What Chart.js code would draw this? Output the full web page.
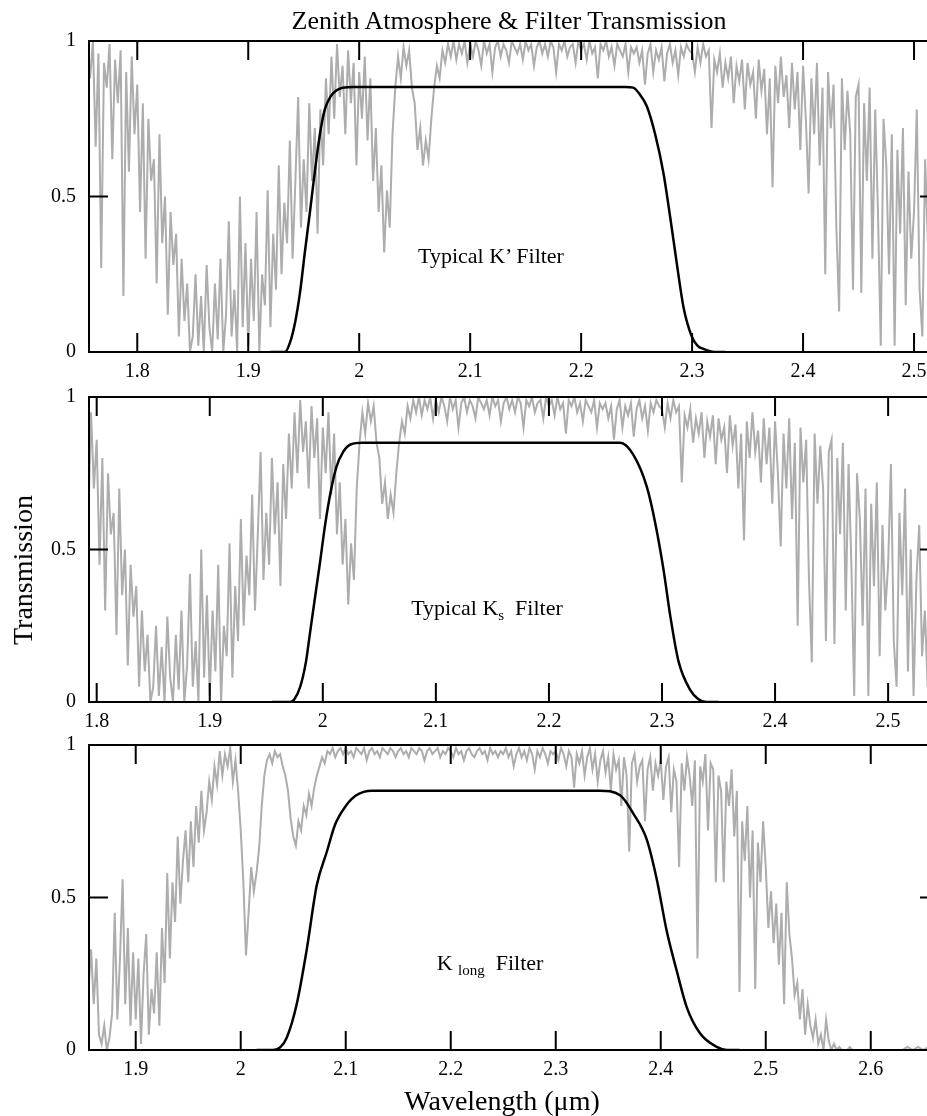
<!DOCTYPE html>
<html><head><meta charset="utf-8">
<script src="https://cdn.jsdelivr.net/npm/chart.js@4.4.0/dist/chart.umd.min.js"></script>
<style>
html,body{margin:0;padding:0;background:#fff;overflow:hidden;}
#wrap{position:relative;width:927px;height:1116px;overflow:hidden;font-family:"Liberation Serif","Times New Roman",serif;color:#000;background:#fff;}
canvas{position:absolute;left:0;}
.t{position:absolute;white-space:nowrap;line-height:1;transform:translateX(-50%);}
.sub{font-size:15px;position:relative;top:5px;}
</style></head><body><div id="wrap">
<canvas id="c1" width="950" height="390" style="top:0px"></canvas>
<canvas id="c2" width="950" height="368" style="top:372px"></canvas>
<canvas id="c3" width="950" height="368" style="top:720px"></canvas>
<div class="t" style="left:509px;top:8px;font-size:26px;">Zenith Atmosphere &amp; Filter Transmission</div>
<div class="t" style="left:491px;top:245px;font-size:22px;">Typical K’ Filter</div>
<div class="t" style="left:487px;top:597px;font-size:22px;">Typical K<span class="sub">s</span>&nbsp; Filter</div>
<div class="t" style="left:490px;top:952px;font-size:22px;">K <span class="sub">long</span>&nbsp; Filter</div>
<div class="t" style="left:502px;top:1087px;font-size:28px;">Wavelength (μm)</div>
<div style="position:absolute;left:23px;top:570px;font-size:28px;line-height:1;white-space:nowrap;transform:translate(-50%,-50%) rotate(-90deg);">Transmission</div>
</div>
<script>
// ---- tick labels ----
const yTicks = [0, 0.5, 1];
const xTicks1 = [1.8, 1.9, 2, 2.1, 2.2, 2.3, 2.4, 2.5];
const xTicks2 = [1.8, 1.9, 2, 2.1, 2.2, 2.3, 2.4, 2.5];
const xTicks3 = [1.9, 2, 2.1, 2.2, 2.3, 2.4, 2.5, 2.6];
const xRange1 = [1.7565, 2.5225];
const xRange2 = [1.7932, 2.545];
const xRange3 = [1.8555, 2.665];

// ---- atmosphere (panels 1 and 2) ----
const atmA_wl = [
1.75,1.7525,1.755,1.7575,1.76,1.7625,1.765,1.7675,1.77,1.7725,1.775,1.7775,1.78,1.7825,1.785,1.7875,1.79,1.7925,1.795,1.7975,
1.8,1.8025,1.805,1.8075,1.81,1.8125,1.815,1.8175,1.82,1.8225,1.825,1.8275,1.83,1.8325,1.835,1.8375,1.84,1.8425,1.845,1.8475,
1.85,1.8525,1.855,1.8575,1.86,1.8625,1.865,1.8675,1.87,1.8725,1.875,1.8775,1.88,1.8825,1.885,1.8875,1.89,1.8925,1.895,1.8975,
1.9,1.9025,1.905,1.9075,1.91,1.9125,1.915,1.9175,1.92,1.9225,1.925,1.9275,1.93,1.9325,1.935,1.9375,1.94,1.9425,1.945,1.9475,
1.95,1.9525,1.955,1.9575,1.96,1.9625,1.965,1.9675,1.97,1.9725,1.975,1.9775,1.98,1.9825,1.985,1.9875,1.99,1.9925,1.995,1.9975,
2,2.0025,2.005,2.0075,2.01,2.0125,2.015,2.0175,2.02,2.0225,2.025,2.0275,2.03,2.0325,2.035,2.0375,2.04,2.0425,2.045,2.0475,
2.05,2.0525,2.055,2.0575,2.06,2.0625,2.065,2.0675,2.07,2.0725,2.075,2.0775,2.08,2.0825,2.085,2.0875,2.09,2.0925,2.095,2.0975,
2.1,2.1025,2.105,2.1075,2.11,2.1125,2.115,2.1175,2.12,2.1225,2.125,2.1275,2.13,2.1325,2.135,2.1375,2.14,2.1425,2.145,2.1475,
2.15,2.1525,2.155,2.1575,2.16,2.1625,2.165,2.1675,2.17,2.1725,2.175,2.1775,2.18,2.1825,2.185,2.1875,2.19,2.1925,2.195,2.1975,
2.2,2.2025,2.205,2.2075,2.21,2.2125,2.215,2.2175,2.22,2.2225,2.225,2.2275,2.23,2.2325,2.235,2.2375,2.24,2.2425,2.245,2.2475,
2.25,2.2525,2.255,2.2575,2.26,2.2625,2.265,2.2675,2.27,2.2725,2.275,2.2775,2.28,2.2825,2.285,2.2875,2.29,2.2925,2.295,2.2975,
2.3,2.3025,2.305,2.3075,2.31,2.3125,2.315,2.3175,2.32,2.3225,2.325,2.3275,2.33,2.3325,2.335,2.3375,2.34,2.3425,2.345,2.3475,
2.35,2.3525,2.355,2.3575,2.36,2.3625,2.365,2.3675,2.37,2.3725,2.375,2.3775,2.38,2.3825,2.385,2.3875,2.39,2.3925,2.395,2.3975,
2.4,2.4025,2.405,2.4075,2.41,2.4125,2.415,2.4175,2.42,2.4225,2.425,2.4275,2.43,2.4325,2.435,2.4375,2.44,2.4425,2.445,2.4475,
2.45,2.4525,2.455,2.4575,2.46,2.4625,2.465,2.4675,2.47,2.4725,2.475,2.4775,2.48,2.4825,2.485,2.4875,2.49,2.4925,2.495,2.4975,
2.5,2.5025,2.505,2.5075,2.51,2.5125,2.515,2.5175,2.52,2.5225,2.525,2.5275,2.53,2.5325,2.535,2.5375,2.54,2.5425,2.545,2.5475,
2.55];
const atmA_tr = [
0.95,0.72,0.98,0.88,1.0,0.66,0.96,0.27,0.93,0.85,0.99,0.62,0.94,0.80,0.97,0.18,0.90,0.58,0.95,0.70,
0.86,0.45,0.80,0.30,0.75,0.55,0.62,0.22,0.70,0.35,0.50,0.12,0.45,0.28,0.38,0.05,0.30,0.10,0.22,0.0,
0.05,0.25,0.02,0.18,0.0,0.28,0.08,0.0,0.22,0.04,0.30,0.0,0.12,0.42,0.05,0.20,0.0,0.50,0.08,0.35,
0.02,0.30,0.10,0.45,0.0,0.25,0.15,0.52,0.08,0.38,0.20,0.60,0.25,0.48,0.35,0.68,0.30,0.55,0.82,0.40,
0.62,0.45,0.80,0.55,0.72,0.38,0.78,0.60,0.88,0.70,0.95,0.75,0.99,0.82,0.92,0.70,0.97,0.80,0.93,0.60,
0.90,0.75,0.95,0.68,0.88,0.55,0.72,0.45,0.60,0.32,0.52,0.40,0.70,0.85,0.95,0.88,0.98,0.92,0.97,0.85,
0.80,0.65,0.72,0.60,0.68,0.62,0.75,0.85,0.92,0.88,0.97,0.93,0.99,0.95,1.0,0.94,0.99,0.96,1.0,0.93,
0.99,0.95,1.0,0.97,0.92,1.0,0.96,0.99,0.90,0.98,1.0,0.95,0.99,0.97,0.93,1.0,0.98,0.96,0.99,0.94,
1.0,0.97,0.99,0.92,0.98,1.0,0.96,0.99,0.95,1.0,0.98,0.90,0.99,0.97,1.0,0.95,0.98,0.99,0.93,1.0,
0.97,0.99,0.94,1.0,0.96,0.98,0.88,0.99,0.97,1.0,0.95,0.98,0.92,0.99,0.97,0.95,0.99,0.90,0.98,0.96,
0.98,0.93,0.97,0.86,0.96,0.99,0.90,0.97,0.94,0.98,0.87,0.96,0.99,0.93,0.97,0.89,0.98,0.95,0.99,0.97,
0.96,0.90,0.98,0.93,0.99,0.95,0.97,0.72,0.94,0.90,0.96,0.85,0.93,0.88,0.95,0.80,0.92,0.87,0.94,0.78,
0.93,0.86,0.90,0.75,0.94,0.84,0.91,0.70,0.88,0.53,0.92,0.80,0.95,0.82,0.89,0.72,0.93,0.78,0.90,0.65,
0.92,0.75,0.51,0.88,0.70,0.93,0.60,0.85,0.25,0.90,0.72,0.86,0.40,0.13,0.88,0.65,0.84,0.70,0.20,0.82,
0.86,0.19,0.80,0.55,0.85,0.30,0.78,0.45,0.02,0.75,0.60,0.25,0.70,0.02,0.65,0.38,0.72,0.15,0.58,0.30,
0.45,0.78,0.20,0.05,0.62,0.35,0.70,0.10,0.50,0.02,0.40,0.58,0.15,0.30,0.05,0.22,0.0,0.12,0.05,0.18,
0.02];

// ---- atmosphere (panel 3) ----
const atmB_wl = [
1.855,1.8575,1.86,1.8625,1.865,1.8675,1.87,1.8725,1.875,1.8775,1.88,1.8825,1.885,1.8875,1.89,1.8925,1.895,1.8975,
1.9,1.9025,1.905,1.9075,1.91,1.9125,1.915,1.9175,1.92,1.9225,1.925,1.9275,1.93,1.9325,1.935,1.9375,1.94,1.9425,1.945,1.9475,
1.95,1.9525,1.955,1.9575,1.96,1.9625,1.965,1.9675,1.97,1.9725,1.975,1.9775,1.98,1.9825,1.985,1.9875,1.99,1.9925,1.995,1.9975,
2,2.0025,2.005,2.0075,2.01,2.0125,2.015,2.0175,2.02,2.0225,2.025,2.0275,2.03,2.0325,2.035,2.0375,2.04,2.0425,2.045,2.0475,
2.05,2.0525,2.055,2.0575,2.06,2.0625,2.065,2.0675,2.07,2.0725,2.075,2.0775,2.08,2.0825,2.085,2.0875,2.09,2.0925,2.095,2.0975,
2.1,2.1025,2.105,2.1075,2.11,2.1125,2.115,2.1175,2.12,2.1225,2.125,2.1275,2.13,2.1325,2.135,2.1375,2.14,2.1425,2.145,2.1475,
2.15,2.1525,2.155,2.1575,2.16,2.1625,2.165,2.1675,2.17,2.1725,2.175,2.1775,2.18,2.1825,2.185,2.1875,2.19,2.1925,2.195,2.1975,
2.2,2.2025,2.205,2.2075,2.21,2.2125,2.215,2.2175,2.22,2.2225,2.225,2.2275,2.23,2.2325,2.235,2.2375,2.24,2.2425,2.245,2.2475,
2.25,2.2525,2.255,2.2575,2.26,2.2625,2.265,2.2675,2.27,2.2725,2.275,2.2775,2.28,2.2825,2.285,2.2875,2.29,2.2925,2.295,2.2975,
2.3,2.3025,2.305,2.3075,2.31,2.3125,2.315,2.3175,2.32,2.3225,2.325,2.3275,2.33,2.3325,2.335,2.3375,2.34,2.3425,2.345,2.3475,
2.35,2.3525,2.355,2.3575,2.36,2.3625,2.365,2.3675,2.37,2.3725,2.375,2.3775,2.38,2.3825,2.385,2.3875,2.39,2.3925,2.395,2.3975,
2.4,2.4025,2.405,2.4075,2.41,2.4125,2.415,2.4175,2.42,2.4225,2.425,2.4275,2.43,2.4325,2.435,2.4375,2.44,2.4425,2.445,2.4475,
2.45,2.4525,2.455,2.4575,2.46,2.4625,2.465,2.4675,2.47,2.4725,2.475,2.4775,2.48,2.4825,2.485,2.4875,2.49,2.4925,2.495,2.4975,
2.5,2.5025,2.505,2.5075,2.51,2.5125,2.515,2.5175,2.52,2.5225,2.525,2.5275,2.53,2.5325,2.535,2.5375,2.54,2.5425,2.545,2.5475,
2.55,2.5525,2.555,2.5575,2.56,2.5625,2.565,2.5675,2.57,2.5725,2.575,2.5775,2.58,2.5825,2.585,2.5875,2.59,2.5925,2.595,2.5975,
2.6,2.605,2.61,2.615,2.62,2.625,2.63,2.635,2.64,2.645,2.65,2.655,2.66,2.665];
const atmB_tr = [
0.20,0.33,0.15,0.30,0.05,0.02,0.08,0.0,0.04,0.12,0.45,0.10,0.30,0.56,0.15,0.40,0.08,0.32,
0.10,0.30,0.02,0.25,0.38,0.05,0.20,0.12,0.32,0.08,0.40,0.22,0.58,0.30,0.55,0.42,0.70,0.48,0.62,0.72,
0.55,0.75,0.60,0.80,0.68,0.85,0.72,0.78,0.88,0.82,0.93,0.87,0.98,0.90,0.97,0.93,0.99,0.88,0.95,0.85,
0.72,0.55,0.31,0.45,0.60,0.52,0.58,0.66,0.80,0.90,0.95,0.97,0.94,0.98,0.96,0.97,0.93,0.90,0.85,0.76,
0.70,0.67,0.75,0.72,0.80,0.77,0.84,0.80,0.86,0.90,0.93,0.96,0.94,0.98,0.97,0.99,0.96,0.98,0.99,0.97,
0.99,0.97,0.98,0.96,0.99,0.98,0.97,0.99,0.95,0.98,0.99,0.97,0.98,0.96,0.99,0.98,0.97,0.99,0.98,0.96,
0.98,0.99,0.97,0.98,0.96,0.99,0.98,0.97,0.99,0.98,0.95,0.98,0.99,0.97,0.98,0.99,0.96,0.98,0.97,0.99,
0.98,0.96,0.99,0.97,0.98,0.95,0.98,0.99,0.97,0.96,0.98,0.99,0.97,0.98,0.95,0.99,0.97,0.98,0.96,0.98,
0.97,0.99,0.96,0.98,0.93,0.97,0.99,0.96,0.98,0.95,0.99,0.97,0.92,0.98,0.96,0.99,0.97,0.94,0.98,0.97,
0.98,0.95,0.99,0.97,0.93,0.98,0.96,0.86,0.97,0.94,0.98,0.90,0.96,0.99,0.92,0.97,0.88,0.95,0.98,0.91,
0.96,0.85,0.97,0.92,0.95,0.80,0.96,0.90,0.65,0.94,0.97,0.88,0.93,0.95,0.75,0.92,0.96,0.85,0.94,0.90,
0.95,0.82,0.93,0.96,0.78,0.92,0.88,0.60,0.94,0.85,0.96,0.90,0.80,0.95,0.30,0.93,0.88,0.97,0.72,0.94,
0.92,0.55,0.90,0.85,0.55,0.88,0.80,0.92,0.70,0.85,0.19,0.75,0.62,0.80,0.50,0.72,0.20,0.68,0.55,0.75,
0.60,0.40,0.52,0.35,0.48,0.28,0.45,0.15,0.55,0.38,0.30,0.18,0.22,0.10,0.20,0.05,0.15,0.08,0.04,0.10,
0.02,0.05,0.0,0.10,0.03,0.0,0.02,0.0,0.01,0.0,0.0,0.0,0.01,0.0,0.0,0.0,0.0,0.0,0.0,0.0,
0,0,0,0,0,0,0,0.01,0,0.01,0,0.01,0,0.01];

// ---- filter curves ----
const kp_wl = [1.92,1.933,1.9376,1.9425,1.9466,1.951,1.9556,1.96,1.9646,1.969,1.974,1.979,1.985,1.995,2.1,2.24,2.2469,2.2525,2.2592,2.2667,2.2742,2.2802,2.2862,2.2922,2.2997,2.305,2.3102,2.32,2.33];
const kp_tr = [0,0,0.03,0.10,0.19,0.32,0.45,0.58,0.70,0.78,0.82,0.84,0.85,0.852,0.852,0.852,0.85,0.83,0.79,0.70,0.575,0.435,0.285,0.145,0.05,0.02,0.01,0,0];
const ks_wl = [1.955,1.971,1.975,1.98,1.985,1.9888,1.993,1.9976,2.002,2.007,2.012,2.018,2.025,2.035,2.15,2.263,2.2747,2.2866,2.294,2.3013,2.3072,2.3145,2.3249,2.332,2.339,2.35];
const ks_tr = [0,0,0.01,0.05,0.13,0.23,0.34,0.46,0.58,0.69,0.77,0.82,0.845,0.85,0.85,0.85,0.81,0.705,0.587,0.435,0.285,0.135,0.04,0.01,0,0];
const kl_wl = [2.015,2.031,2.038,2.0438,2.0533,2.0629,2.0724,2.082,2.09,2.1,2.11,2.125,2.25,2.342,2.3613,2.3739,2.3867,2.3962,2.4057,2.4152,2.4248,2.4374,2.4533,2.4629,2.475];
const kl_tr = [0,0,0.01,0.04,0.15,0.33,0.54,0.65,0.74,0.80,0.835,0.85,0.85,0.85,0.835,0.775,0.69,0.56,0.39,0.26,0.14,0.055,0.01,0,0];

const FONT = '"Liberation Serif","Times New Roman",serif';
const TICK = 19;

const framePlugin = {
  id: 'frame',
  afterDatasetsDraw(chart) {
    const ctx = chart.ctx, a = chart.chartArea, xs = chart.scales.x, ys = chart.scales.y;
    ctx.save();
    ctx.strokeStyle = '#000';
    ctx.lineWidth = 2;
    ctx.strokeRect(a.left, a.top, a.right - a.left, a.bottom - a.top);
    ctx.beginPath();
    xs.ticks.forEach(t => {
      const px = xs.getPixelForValue(t.value);
      ctx.moveTo(px, a.bottom); ctx.lineTo(px, a.bottom - TICK);
      ctx.moveTo(px, a.top); ctx.lineTo(px, a.top + TICK);
    });
    ys.ticks.forEach(t => {
      if (t.value > 0 && t.value < 1) {
        const py = ys.getPixelForValue(t.value);
        ctx.moveTo(a.left, py); ctx.lineTo(a.left + TICK, py);
        ctx.moveTo(a.right, py); ctx.lineTo(a.right - TICK, py);
      }
    });
    ctx.stroke();
    ctx.restore();
  }
};

function pts(w, t) { return w.map((v, i) => ({ x: v, y: t[i] })); }

function makeChart(id, range, xt, aw, at, fw, ft, topPad) {
  new Chart(document.getElementById(id), {
    type: 'line',
    data: {
      datasets: [
        { data: pts(fw, ft), borderColor: '#000', borderWidth: 2.5, pointRadius: 0, cubicInterpolationMode: 'monotone', fill: false },
        { data: pts(aw, at), borderColor: '#adadad', borderWidth: 2, pointRadius: 0, tension: 0, fill: false }
      ]
    },
    options: {
      responsive: false,
      animation: false,
      events: [],
      layout: { padding: { top: topPad, right: 11, left: 0, bottom: 0 } },
      plugins: { legend: { display: false }, tooltip: { enabled: false }, title: { display: false } },
      scales: {
        x: {
          type: 'linear', min: range[0], max: range[1],
          grid: { display: false, drawTicks: false }, border: { display: false },
          afterBuildTicks: s => { s.ticks = xt.map(v => ({ value: v })); },
          afterFit: s => { s.height = 38; },
          ticks: { padding: 8, color: '#000', font: { family: FONT, size: 20 }, maxRotation: 0, autoSkip: false, callback: v => String(v) }
        },
        y: {
          type: 'linear', min: 0, max: 1,
          grid: { display: false, drawTicks: false }, border: { display: false },
          afterBuildTicks: s => { s.ticks = yTicks.map(v => ({ value: v })); },
          afterFit: s => { s.width = 89; },
          ticks: { padding: 13, color: '#000', font: { family: FONT, size: 20 }, callback: v => String(v) }
        }
      }
    },
    plugins: [framePlugin]
  });
}

makeChart('c1', xRange1, xTicks1, atmA_wl, atmA_tr, kp_wl, kp_tr, 41);
makeChart('c2', xRange2, xTicks2, atmA_wl, atmA_tr, ks_wl, ks_tr, 20);
makeChart('c3', xRange3, xTicks3, atmB_wl, atmB_tr, kl_wl, kl_tr, 20);
</script>
</body></html>
